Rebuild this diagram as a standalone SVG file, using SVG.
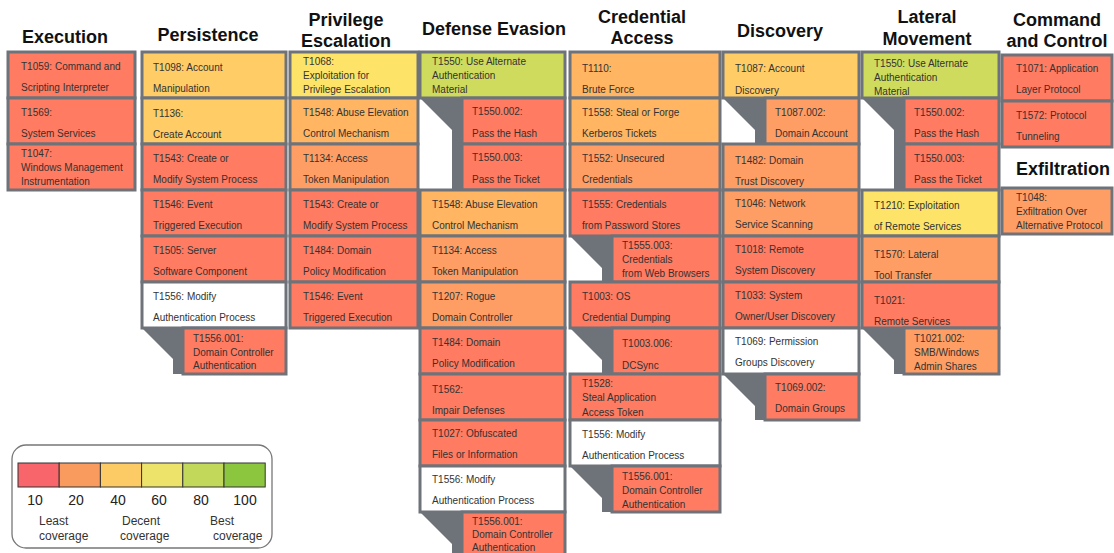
<svg xmlns="http://www.w3.org/2000/svg" width="1114" height="553" viewBox="0 0 1114 553">
<style>
.c{stroke:#6e737a;stroke-width:3}
.r{fill:#FF7B61}.o{fill:#FF9E64}.a{fill:#FFB562}.l{fill:#FFCC66}.y{fill:#FDE468}.g{fill:#CFDB5C}.w{fill:#FFFFFF}
.t{font-family:"Liberation Sans",Arial,sans-serif;font-size:10px;fill:#333}
.h{font-family:"Liberation Sans",Arial,sans-serif;font-size:18px;font-weight:bold;fill:#111;text-anchor:middle}
.cn{fill:#6e737a}
.n{font-family:"Liberation Sans",Arial,sans-serif;font-size:14px;fill:#222;text-anchor:middle}
.lg{font-family:"Liberation Sans",Arial,sans-serif;font-size:12px;fill:#333}
</style>
<rect width="1114" height="553" fill="#fff"/>
<g id="titles">
<text class="h" x="65" y="43">Execution</text>
<text class="h" x="208" y="41">Persistence</text>
<text class="h" x="346" y="26">Privilege</text>
<text class="h" x="346" y="47">Escalation</text>
<text class="h" x="494" y="35">Defense Evasion</text>
<text class="h" x="642" y="23">Credential</text>
<text class="h" x="642" y="44">Access</text>
<text class="h" x="780" y="37">Discovery</text>
<text class="h" x="927" y="23">Lateral</text>
<text class="h" x="927" y="45">Movement</text>
<text class="h" x="1057" y="26">Command</text>
<text class="h" x="1057" y="47">and Control</text>
<text class="h" x="1063" y="175">Exfiltration</text>
</g>
<g id="connectors">
<polygon class="cn" points="142,328 183,328 183,374 173,374 173,359"/>
<polygon class="cn" points="420,98 462,98 462,190 452,190 452,130"/>
<polygon class="cn" points="420,512 462,512 462,558 452,558 452,544"/>
<polygon class="cn" points="570,236 612,236 612,282 602,282 602,268"/>
<polygon class="cn" points="570,328 612,328 612,374 602,374 602,360"/>
<polygon class="cn" points="570,466 612,466 612,512 602,512 602,498"/>
<polygon class="cn" points="723,98 765,98 765,144 755,144 755,130"/>
<polygon class="cn" points="723,374 765,374 765,420 755,420 755,406"/>
<polygon class="cn" points="862,98 904,98 904,190 894,190 894,130"/>
<polygon class="cn" points="862,328 904,328 904,374 894,374 894,360"/>
</g>
<!-- Execution -->
<g id="exe-t1059"><rect class="c r" x="8" y="52" width="127" height="46"/><text class="t" x="21" y="70">T1059: Command and</text><text class="t" x="21" y="91">Scripting Interpreter</text></g>
<g id="exe-t1569"><rect class="c r" x="8" y="98" width="127" height="46"/><text class="t" x="21" y="116">T1569:</text><text class="t" x="21" y="137">System Services</text></g>
<g id="exe-t1047"><rect class="c r" x="8" y="144" width="127" height="46"/><text class="t" x="21" y="157">T1047:</text><text class="t" x="21" y="171">Windows Management</text><text class="t" x="21" y="185">Instrumentation</text></g>
<!-- Persistence -->
<g id="per-t1098"><rect class="c l" x="142" y="52" width="144" height="46"/><text class="t" x="153" y="71">T1098: Account</text><text class="t" x="153" y="92">Manipulation</text></g>
<g id="per-t1136"><rect class="c l" x="142" y="98" width="144" height="46"/><text class="t" x="153" y="117">T1136:</text><text class="t" x="153" y="138">Create Account</text></g>
<g id="per-t1543"><rect class="c r" x="142" y="144" width="144" height="46"/><text class="t" x="153" y="162">T1543: Create or</text><text class="t" x="153" y="183">Modify System Process</text></g>
<g id="per-t1546"><rect class="c r" x="142" y="190" width="144" height="46"/><text class="t" x="153" y="208">T1546: Event</text><text class="t" x="153" y="229">Triggered Execution</text></g>
<g id="per-t1505"><rect class="c r" x="142" y="236" width="144" height="46"/><text class="t" x="153" y="254">T1505: Server</text><text class="t" x="153" y="275">Software Component</text></g>
<g id="per-t1556"><rect class="c w" x="142" y="282" width="144" height="46"/><text class="t" x="153" y="300">T1556: Modify</text><text class="t" x="153" y="321">Authentication Process</text></g>
<g id="per-t1556-001"><rect class="c r" x="183" y="328" width="103" height="46"/><text class="t" x="193" y="342">T1556.001:</text><text class="t" x="193" y="356">Domain Controller</text><text class="t" x="193" y="369">Authentication</text></g>
<!-- Privilege Escalation -->
<g id="pri-t1068"><rect class="c y" x="290" y="52" width="128" height="46"/><text class="t" x="303" y="65">T1068:</text><text class="t" x="303" y="79">Exploitation for</text><text class="t" x="303" y="93">Privilege Escalation</text></g>
<g id="pri-t1548"><rect class="c a" x="290" y="98" width="128" height="46"/><text class="t" x="303" y="116">T1548: Abuse Elevation</text><text class="t" x="303" y="137">Control Mechanism</text></g>
<g id="pri-t1134"><rect class="c o" x="290" y="144" width="128" height="46"/><text class="t" x="303" y="162">T1134: Access</text><text class="t" x="303" y="183">Token Manipulation</text></g>
<g id="pri-t1543"><rect class="c r" x="290" y="190" width="128" height="46"/><text class="t" x="303" y="208">T1543: Create or</text><text class="t" x="303" y="229">Modify System Process</text></g>
<g id="pri-t1484"><rect class="c r" x="290" y="236" width="128" height="46"/><text class="t" x="303" y="254">T1484: Domain</text><text class="t" x="303" y="275">Policy Modification</text></g>
<g id="pri-t1546"><rect class="c r" x="290" y="282" width="128" height="46"/><text class="t" x="303" y="300">T1546: Event</text><text class="t" x="303" y="321">Triggered Execution</text></g>
<!-- Defense Evasion -->
<g id="def-t1550"><rect class="c g" x="420" y="52" width="145" height="46"/><text class="t" x="432" y="65">T1550: Use Alternate</text><text class="t" x="432" y="79">Authentication</text><text class="t" x="432" y="93">Material</text></g>
<g id="def-t1550-002"><rect class="c r" x="462" y="98" width="103" height="46"/><text class="t" x="472" y="115">T1550.002:</text><text class="t" x="472" y="137">Pass the Hash</text></g>
<g id="def-t1550-003"><rect class="c r" x="462" y="144" width="103" height="46"/><text class="t" x="472" y="161">T1550.003:</text><text class="t" x="472" y="183">Pass the Ticket</text></g>
<g id="def-t1548"><rect class="c a" x="420" y="190" width="145" height="46"/><text class="t" x="432" y="208">T1548: Abuse Elevation</text><text class="t" x="432" y="229">Control Mechanism</text></g>
<g id="def-t1134"><rect class="c o" x="420" y="236" width="145" height="46"/><text class="t" x="432" y="254">T1134: Access</text><text class="t" x="432" y="275">Token Manipulation</text></g>
<g id="def-t1207"><rect class="c o" x="420" y="282" width="145" height="46"/><text class="t" x="432" y="300">T1207: Rogue</text><text class="t" x="432" y="321">Domain Controller</text></g>
<g id="def-t1484"><rect class="c r" x="420" y="328" width="145" height="46"/><text class="t" x="432" y="346">T1484: Domain</text><text class="t" x="432" y="367">Policy Modification</text></g>
<g id="def-t1562"><rect class="c r" x="420" y="374" width="145" height="46"/><text class="t" x="432" y="393">T1562:</text><text class="t" x="432" y="414">Impair Defenses</text></g>
<g id="def-t1027"><rect class="c r" x="420" y="420" width="145" height="46"/><text class="t" x="432" y="437">T1027: Obfuscated</text><text class="t" x="432" y="458">Files or Information</text></g>
<g id="def-t1556"><rect class="c w" x="420" y="466" width="145" height="46"/><text class="t" x="432" y="483">T1556: Modify</text><text class="t" x="432" y="504">Authentication Process</text></g>
<g id="def-t1556-001"><rect class="c r" x="462" y="512" width="103" height="46"/><text class="t" x="472" y="525">T1556.001:</text><text class="t" x="472" y="538">Domain Controller</text><text class="t" x="472" y="551">Authentication</text></g>
<!-- Credential Access -->
<g id="cre-t1110"><rect class="c a" x="570" y="52" width="150" height="46"/><text class="t" x="582" y="72">T1110:</text><text class="t" x="582" y="93">Brute Force</text></g>
<g id="cre-t1558"><rect class="c a" x="570" y="98" width="150" height="46"/><text class="t" x="582" y="116">T1558: Steal or Forge</text><text class="t" x="582" y="137">Kerberos Tickets</text></g>
<g id="cre-t1552"><rect class="c o" x="570" y="144" width="150" height="46"/><text class="t" x="582" y="162">T1552: Unsecured</text><text class="t" x="582" y="183">Credentials</text></g>
<g id="cre-t1555"><rect class="c r" x="570" y="190" width="150" height="46"/><text class="t" x="582" y="208">T1555: Credentials</text><text class="t" x="582" y="229">from Password Stores</text></g>
<g id="cre-t1555-003"><rect class="c r" x="612" y="236" width="108" height="46"/><text class="t" x="622" y="249">T1555.003:</text><text class="t" x="622" y="263">Credentials</text><text class="t" x="622" y="277">from Web Browsers</text></g>
<g id="cre-t1003"><rect class="c r" x="570" y="282" width="150" height="46"/><text class="t" x="582" y="300">T1003: OS</text><text class="t" x="582" y="321">Credential Dumping</text></g>
<g id="cre-t1003-006"><rect class="c r" x="612" y="328" width="108" height="46"/><text class="t" x="622" y="347">T1003.006:</text><text class="t" x="622" y="369">DCSync</text></g>
<g id="cre-t1528"><rect class="c r" x="570" y="374" width="150" height="46"/><text class="t" x="582" y="387">T1528:</text><text class="t" x="582" y="401">Steal Application</text><text class="t" x="582" y="416">Access Token</text></g>
<g id="cre-t1556"><rect class="c w" x="570" y="420" width="150" height="46"/><text class="t" x="582" y="438">T1556: Modify</text><text class="t" x="582" y="459">Authentication Process</text></g>
<g id="cre-t1556-001"><rect class="c r" x="612" y="466" width="108" height="46"/><text class="t" x="622" y="480">T1556.001:</text><text class="t" x="622" y="494">Domain Controller</text><text class="t" x="622" y="508">Authentication</text></g>
<!-- Discovery -->
<g id="dis-t1087"><rect class="c l" x="723" y="52" width="136" height="46"/><text class="t" x="735" y="72">T1087: Account</text><text class="t" x="735" y="94">Discovery</text></g>
<g id="dis-t1087-002"><rect class="c o" x="765" y="98" width="94" height="46"/><text class="t" x="775" y="116">T1087.002:</text><text class="t" x="775" y="137">Domain Account</text></g>
<g id="dis-t1482"><rect class="c o" x="723" y="144" width="136" height="46"/><text class="t" x="735" y="164">T1482: Domain</text><text class="t" x="735" y="185">Trust Discovery</text></g>
<g id="dis-t1046"><rect class="c o" x="723" y="190" width="136" height="46"/><text class="t" x="735" y="207">T1046: Network</text><text class="t" x="735" y="228">Service Scanning</text></g>
<g id="dis-t1018"><rect class="c r" x="723" y="236" width="136" height="46"/><text class="t" x="735" y="253">T1018: Remote</text><text class="t" x="735" y="274">System Discovery</text></g>
<g id="dis-t1033"><rect class="c r" x="723" y="282" width="136" height="46"/><text class="t" x="735" y="299">T1033: System</text><text class="t" x="735" y="320">Owner/User Discovery</text></g>
<g id="dis-t1069"><rect class="c w" x="723" y="328" width="136" height="46"/><text class="t" x="735" y="345">T1069: Permission</text><text class="t" x="735" y="366">Groups Discovery</text></g>
<g id="dis-t1069-002"><rect class="c r" x="765" y="374" width="94" height="46"/><text class="t" x="775" y="391">T1069.002:</text><text class="t" x="775" y="412">Domain Groups</text></g>
<!-- Lateral Movement -->
<g id="lat-t1550"><rect class="c g" x="862" y="52" width="137" height="46"/><text class="t" x="874" y="67">T1550: Use Alternate</text><text class="t" x="874" y="81">Authentication</text><text class="t" x="874" y="95">Material</text></g>
<g id="lat-t1550-002"><rect class="c r" x="904" y="98" width="95" height="46"/><text class="t" x="914" y="116">T1550.002:</text><text class="t" x="914" y="137">Pass the Hash</text></g>
<g id="lat-t1550-003"><rect class="c r" x="904" y="144" width="95" height="46"/><text class="t" x="914" y="162">T1550.003:</text><text class="t" x="914" y="183">Pass the Ticket</text></g>
<g id="lat-t1210"><rect class="c y" x="862" y="190" width="137" height="46"/><text class="t" x="874" y="209">T1210: Exploitation</text><text class="t" x="874" y="230">of Remote Services</text></g>
<g id="lat-t1570"><rect class="c o" x="862" y="236" width="137" height="46"/><text class="t" x="874" y="258">T1570: Lateral</text><text class="t" x="874" y="279">Tool Transfer</text></g>
<g id="lat-t1021"><rect class="c r" x="862" y="282" width="137" height="46"/><text class="t" x="874" y="304">T1021:</text><text class="t" x="874" y="325">Remote Services</text></g>
<g id="lat-t1021-002"><rect class="c o" x="904" y="328" width="95" height="46"/><text class="t" x="914" y="342">T1021.002:</text><text class="t" x="914" y="356">SMB/Windows</text><text class="t" x="914" y="370">Admin Shares</text></g>
<!-- Command and Control -->
<g id="c2-t1071"><rect class="c r" x="1002" y="55" width="110" height="46"/><text class="t" x="1016" y="72">T1071: Application</text><text class="t" x="1016" y="93">Layer Protocol</text></g>
<g id="c2-t1572"><rect class="c r" x="1002" y="101" width="110" height="46"/><text class="t" x="1016" y="119">T1572: Protocol</text><text class="t" x="1016" y="140">Tunneling</text></g>
<!-- Exfiltration -->
<g id="exf-t1048"><rect class="c o" x="1002" y="188" width="110" height="46"/><text class="t" x="1016" y="201">T1048:</text><text class="t" x="1016" y="215">Exfiltration Over</text><text class="t" x="1016" y="229">Alternative Protocol</text></g>
<!-- Legend -->
<g id="legend">
<rect x="12" y="445" width="260" height="103" rx="14" fill="#fff" stroke="#777" stroke-width="1.3"/>
<rect x="18" y="463" width="41.2" height="24" fill="#F8656A" stroke="#333"/>
<rect x="59.2" y="463" width="41.2" height="24" fill="#F99A5E" stroke="#333"/>
<rect x="100.4" y="463" width="41.2" height="24" fill="#FDCB66" stroke="#333"/>
<rect x="141.6" y="463" width="41.2" height="24" fill="#EEE36A" stroke="#333"/>
<rect x="182.8" y="463" width="41.2" height="24" fill="#C2D85A" stroke="#333"/>
<rect x="224" y="463" width="41.2" height="24" fill="#8CC63F" stroke="#333"/>
<text class="n" x="35" y="505">10</text>
<text class="n" x="76" y="505">20</text>
<text class="n" x="118" y="505">40</text>
<text class="n" x="159" y="505">60</text>
<text class="n" x="201" y="505">80</text>
<text class="n" x="245" y="505">100</text>
<text class="lg" x="39" y="525">Least</text>
<text class="lg" x="39" y="540">coverage</text>
<text class="lg" x="122" y="525">Decent</text>
<text class="lg" x="120" y="540">coverage</text>
<text class="lg" x="210" y="525">Best</text>
<text class="lg" x="213" y="540">coverage</text>
</g>
</svg>
